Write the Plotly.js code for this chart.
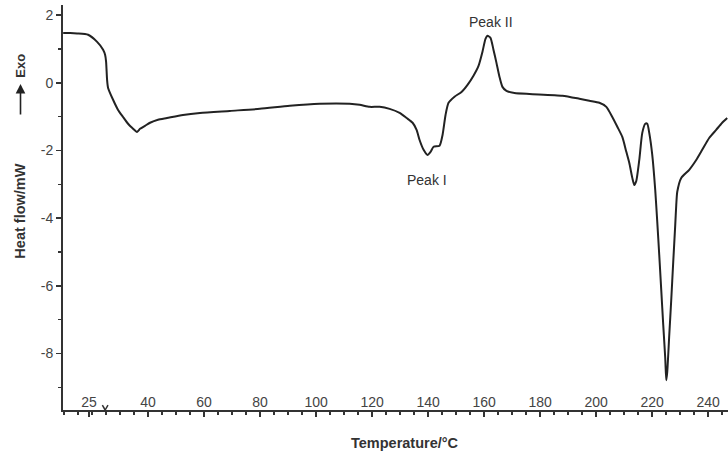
<!DOCTYPE html>
<html>
<head>
<meta charset="utf-8">
<script src="https://cdn.plot.ly/plotly-3.0.1.min.js"></script>
<style>
  html, body { margin: 0; padding: 0; background: #fff; }
  #chart { width: 728px; height: 455px; }
</style>
</head>
<body>
<div id="chart"></div>
<script>
// DSC heating curve: temperature (°C) vs heat flow (mW), exo up.
// The first segment (before the axis break) is the initial hold at 25 °C.
const temperature = [
  9.70, 12.19, 14.69, 18.61, 21.82, 23.96, 24.67, 25.03, 25.38, 25.74,
  27.52, 29.30, 31.09, 32.87, 34.30, 36.08, 37.15, 38.93, 40.71, 43.56,
  46.77, 52.48, 58.54, 69.23, 79.93, 90.62, 101.32, 112.01, 115.58, 119.14,
  122.71, 126.27, 129.84, 132.34, 134.48, 135.90, 136.97, 138.40, 139.82, 140.89,
  141.96, 144.10, 145.17, 146.24, 147.31, 149.45, 151.94, 154.09, 156.22, 158.01,
  159.43, 160.50, 161.21, 162.28, 163.35, 164.42, 165.49, 166.56, 167.99, 170.84,
  176.19, 187.95, 194.02, 197.59, 201.16, 203.65, 205.79, 207.58, 209.36, 210.79,
  211.86, 212.93, 213.64, 214.35, 215.42, 216.49, 217.56, 218.27, 218.98, 220.05,
  221.12, 221.84, 222.55, 223.26, 223.98, 224.69, 225.05, 225.40, 226.12, 226.83,
  227.54, 228.26, 228.62, 228.98, 230.40, 233.25, 235.75, 237.89,
  240.38, 242.88, 245.02, 246.81
];
const heatFlow = [
  1.47, 1.47, 1.46, 1.42, 1.21, 0.98, 0.83, 0.62, 0.09, -0.15,
  -0.50, -0.80, -1.01, -1.21, -1.33, -1.45, -1.36, -1.27, -1.18, -1.09,
  -1.04, -0.95, -0.89, -0.83, -0.77, -0.68, -0.62, -0.62, -0.65, -0.71,
  -0.71, -0.77, -0.89, -1.04, -1.18, -1.39, -1.69, -1.98, -2.13, -2.04,
  -1.89, -1.86, -1.54, -0.95, -0.59, -0.41, -0.27, -0.06, 0.21, 0.50,
  0.92, 1.30, 1.39, 1.33, 0.98, 0.59, 0.18, -0.12, -0.24, -0.30,
  -0.33, -0.38, -0.47, -0.53, -0.59, -0.71, -1.01, -1.30, -1.60, -2.04,
  -2.37, -2.81, -3.02, -2.90, -2.28, -1.48, -1.21, -1.21, -1.48, -2.13,
  -3.17, -4.11, -5.09, -6.12, -7.16, -8.14, -8.79, -8.55, -7.46, -6.42,
  -5.30, -4.20, -3.61, -3.22, -2.81, -2.57, -2.28, -1.98,
  -1.63, -1.39, -1.18, -1.04
];

// x tick labels; "25" marks the isothermal start ahead of the break
const xTickVals = [18.9, 40, 60, 80, 100, 120, 140, 160, 180, 200, 220, 240];
const xTickText = ['25', '40', '60', '80', '100', '120', '140', '160', '180', '200', '220', '240'];
const yTickVals = [-8, -6, -4, -2, 0, 2];
const yTickText = ['-8', '-6', '-4', '-2', '0', '2'];

// Peak annotations
const peakNames = ['Peak I', 'Peak II'];
const peakX = [139.6, 162.6];
const peakY = [-2.87, 1.80];

const font = 'Liberation Sans, Arial, sans-serif';
const axisColor = '#333';
const titleX = -0.0639;

const trace = {
  x: temperature,
  y: heatFlow,
  type: 'scatter',
  mode: 'lines',
  line: { color: '#222', width: 2, shape: 'spline', smoothing: 0.6 },
  hoverinfo: 'skip'
};

const annotations = peakNames.map((t, i) => ({
  x: peakX[i], y: peakY[i], xref: 'x', yref: 'y',
  text: t, showarrow: false,
  font: { family: font, size: 14, color: '#333' }
}));

// y-axis title and the "Exo" direction arrow
annotations.push({
  xref: 'paper', yref: 'paper', x: titleX, y: 0.491,
  xanchor: 'center', yanchor: 'middle',
  text: '<b>Heat flow/mW</b>', textangle: -90, showarrow: false,
  font: { family: font, size: 14.5, color: '#333' }
});
annotations.push({
  xref: 'paper', yref: 'paper', x: titleX, y: 0.849,
  xanchor: 'center', yanchor: 'middle',
  text: '<b>Exo</b>', textangle: -90, showarrow: false,
  font: { family: font, size: 13, color: '#333' }
});
annotations.push({
  xref: 'paper', yref: 'paper', x: titleX, y: 0.805,
  ax: titleX, ay: 0.726, axref: 'paper', ayref: 'paper',
  text: '', showarrow: true, arrowhead: 2, arrowsize: 1.2, arrowwidth: 1.6,
  arrowcolor: '#222'
});
// x-axis title
annotations.push({
  xref: 'paper', yref: 'paper', x: 0.514, y: -0.058, yanchor: 'top',
  text: '<b>Temperature/°C</b>', showarrow: false,
  font: { family: font, size: 14.5, color: '#333' }
});

// axis-break marker on the temperature axis
const shapes = [
  { type: 'line', xref: 'x', yref: 'paper', x0: 23.7, x1: 24.7, y0: 0.012, y1: 0.0, line: { color: axisColor, width: 1.5 } },
  { type: 'line', xref: 'x', yref: 'paper', x0: 24.7, x1: 25.7, y0: 0.0, y1: 0.012, line: { color: axisColor, width: 1.5 } }
];

const layout = {
  width: 728, height: 455,
  margin: { l: 63, r: 0, t: 5, b: 45 },
  paper_bgcolor: '#fff', plot_bgcolor: '#fff',
  showlegend: false,
  font: { family: font, size: 14, color: '#444' },
  xaxis: {
    range: [9.64, 247.1],
    showgrid: false, zeroline: false,
    showline: true, linecolor: axisColor, linewidth: 2,
    tickmode: 'array', tickvals: xTickVals, ticktext: xTickText,
    ticks: 'outside', ticklen: 5, tickwidth: 1.5, tickcolor: axisColor,
    ticklabelposition: 'inside',
    tickfont: { family: font, size: 14, color: '#444' },
    minor: { dtick: 5, tick0: 0, ticks: 'outside', ticklen: 3, tickwidth: 1.5, tickcolor: axisColor, showgrid: false }
  },
  yaxis: {
    range: [-9.67, 2.3],
    showgrid: false, zeroline: false,
    showline: true, linecolor: axisColor, linewidth: 2,
    tickmode: 'array', tickvals: yTickVals, ticktext: yTickText,
    ticks: 'outside', ticklen: 5, tickwidth: 1.5, tickcolor: axisColor,
    tickfont: { family: font, size: 14, color: '#444' },
    minor: { dtick: 1, tick0: 1, ticks: 'outside', ticklen: 3, tickwidth: 1.5, tickcolor: axisColor, showgrid: false }
  },
  annotations: annotations,
  shapes: shapes
};

Plotly.newPlot('chart', [trace], layout, { staticPlot: true, displayModeBar: false });
</script>
</body>
</html>
